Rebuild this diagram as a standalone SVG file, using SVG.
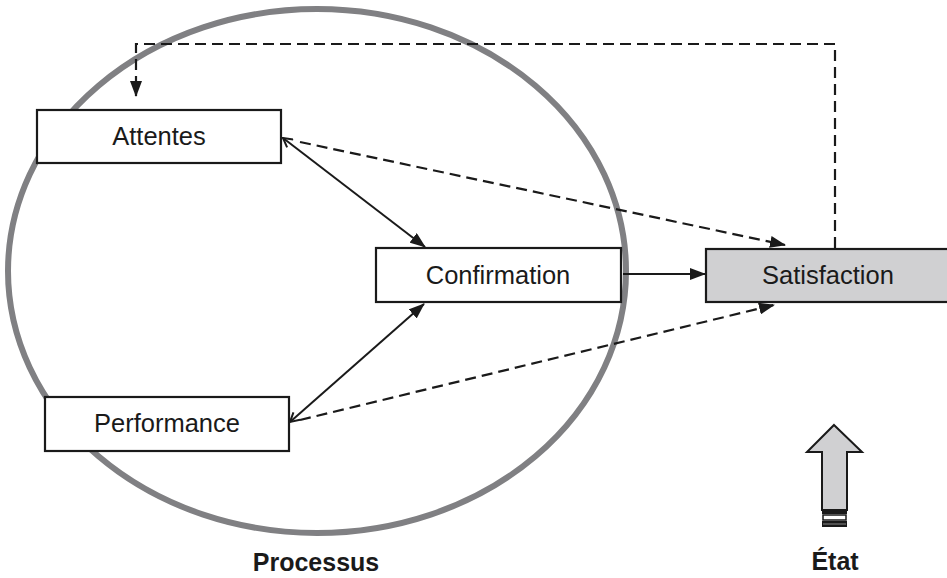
<svg xmlns="http://www.w3.org/2000/svg" width="947" height="578" viewBox="0 0 947 578">
<style>
.box{fill:#fff;stroke:#1a1a1a;stroke-width:2.2}
.sat{fill:#d0d0d2;stroke:#1a1a1a;stroke-width:2.2}
.t{font-family:"Liberation Sans",Arial,sans-serif;font-size:25.5px;fill:#1a1a1a;text-anchor:middle}
.b{font-family:"Liberation Sans",Arial,sans-serif;font-size:25px;font-weight:bold;fill:#1a1a1a;text-anchor:middle}
.s{fill:none;stroke:#1a1a1a;stroke-width:2}
.d{fill:none;stroke:#1a1a1a;stroke-width:2.2;stroke-dasharray:11 6}
</style>
<defs>
<marker id="ah" viewBox="0 0 16 12" refX="15" refY="6" markerWidth="16" markerHeight="12" markerUnits="userSpaceOnUse" orient="auto">
<path d="M0,0 L16,6 L0,12 Z" fill="#1a1a1a"/>
</marker>
<marker id="op" viewBox="-1 -6 12 12" refX="0" refY="0" markerWidth="12" markerHeight="12" markerUnits="userSpaceOnUse" orient="auto">
<path d="M9,-5 L0,0 L9,5" fill="none" stroke="#1a1a1a" stroke-width="2"/>
</marker>
</defs>
<ellipse id="processus-ellipse" cx="317" cy="271" rx="309" ry="262" fill="none" stroke="#808083" stroke-width="6"/>
<g id="connectors">
<path class="s" d="M283,138 L425,247" marker-start="url(#op)" marker-end="url(#ah)"/>
<path class="s" d="M290,422 L424,304" marker-start="url(#op)" marker-end="url(#ah)"/>
<path class="s" d="M623,274 L705,274" marker-end="url(#ah)"/>
<path class="d" d="M300,142 L785,245" marker-end="url(#ah)"/>
<path class="d" d="M300,420 L774,305" marker-end="url(#ah)"/>
<path class="d" d="M835,248 L835,44 L136,44 L136,96" marker-end="url(#ah)"/>
</g>
<g id="attentes"><rect class="box" x="37" y="110" width="244" height="53"/><text class="t" x="159" y="145">Attentes</text></g>
<g id="performance"><rect class="box" x="45" y="397" width="244" height="54"/><text class="t" x="167" y="432">Performance</text></g>
<g id="confirmation"><rect class="box" x="376" y="248" width="245" height="54"/><text class="t" x="498" y="284">Confirmation</text></g>
<g id="satisfaction"><rect class="sat" x="706" y="249" width="250" height="53"/><text class="t" x="828" y="284">Satisfaction</text></g>
<g id="etat-arrow">
<path d="M834,425 L862,452 L847,452 L847,510 L822,510 L822,452 L807,452 Z" fill="#d0d0d2" stroke="#1a1a1a" stroke-width="2"/>
<rect x="822" y="510" width="25" height="4" fill="#1a1a1a"/>
<rect x="823" y="515" width="23" height="5" fill="#fff" stroke="#1a1a1a" stroke-width="1.5"/>
<rect x="822" y="521" width="25" height="6" fill="#1a1a1a"/>
<line x1="823" y1="524" x2="846" y2="524" stroke="#888" stroke-width="1"/>
</g>
<text class="b" x="316" y="571">Processus</text>
<text class="b" x="835" y="570">État</text>
</svg>
